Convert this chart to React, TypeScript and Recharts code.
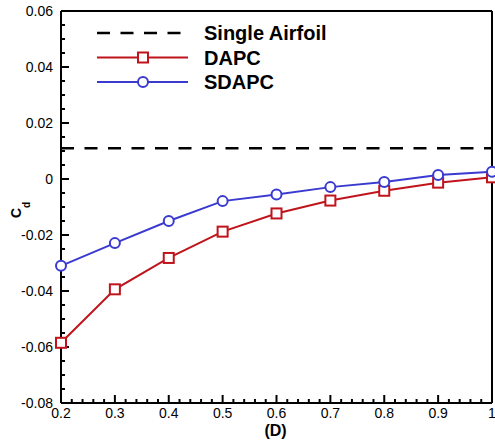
import React from 'react';
import { LineChart, Line, XAxis, YAxis, ReferenceLine, Legend } from 'recharts';

// data
const positions = [0.2, 0.3, 0.4, 0.5, 0.6, 0.7, 0.8, 0.9, 1.0];
const dapc = [-0.0585, -0.0394, -0.0282, -0.0188, -0.0123, -0.0077, -0.0042, -0.0013, 0.0006];
const sdapc = [-0.031, -0.0229, -0.015, -0.0079, -0.0055, -0.0029, -0.0011, 0.0014, 0.0026];
const singleAirfoil = 0.011;

const xMajor = [0.2, 0.3, 0.4, 0.5, 0.6, 0.7, 0.8, 0.9, 1];
const yMajor = [-0.08, -0.06, -0.04, -0.02, 0, 0.02, 0.04, 0.06];
const xLabels = ['0.2', '0.3', '0.4', '0.5', '0.6', '0.7', '0.8', '0.9', '1'];
const yLabels = ['-0.08', '-0.06', '-0.04', '-0.02', '0', '0.02', '0.04', '0.06'];

const X_DOMAIN = [0.2, 1];
const Y_DOMAIN = [-0.08, 0.06];

const RED = '#c0141c';
const BLUE = '#3a3ad0';
const FONT = '"Liberation Sans", Arial, sans-serif';

// plot box is about 431 x 392 px; tick marks go inward, 8px major / 4px minor
const PX_X = (X_DOMAIN[1] - X_DOMAIN[0]) / 431;
const PX_Y = (Y_DOMAIN[1] - Y_DOMAIN[0]) / 392;

// minor tick marks between the major ones
const withMinor = (major: number[], n: number) => {
  const out: number[] = [];
  for (let i = 0; i < major.length - 1; i++) {
    const step = (major[i + 1] - major[i]) / n;
    for (let k = 1; k < n; k++) out.push(Math.round((major[i] + k * step) * 1e6) / 1e6);
  }
  return out;
};
const xMinor = withMinor(xMajor, 5);
const yMinor = withMinor(yMajor, 4);

const data = positions.map((p, i) => ({ pos: p, dapc: dapc[i], sdapc: sdapc[i] }));

const majorIndex = (list: number[], v: number) => list.findIndex((m) => Math.abs(m - v) < 1e-6);

const renderXTick = (props: any) => {
  const { x, y, payload, index } = props;
  const idx = majorIndex(xMajor, payload.value);
  if (idx < 0) return <g key={`xt-${index}`} />;
  return (
    <text key={`xt-${index}`} x={x} y={y + 15} textAnchor="middle" fontSize={14} fontFamily={FONT} fill="#000" stroke="none">
      {xLabels[idx]}
    </text>
  );
};

const renderYTick = (props: any) => {
  const { x, y, payload, index } = props;
  const idx = majorIndex(yMajor, payload.value);
  if (idx < 0) return <g key={`yt-${index}`} />;
  return (
    <text key={`yt-${index}`} x={x - 8} y={y + 5} textAnchor="end" fontSize={14} fontFamily={FONT} fill="#000" stroke="none">
      {yLabels[idx]}
    </text>
  );
};

const SquareDot = (props: any) => {
  const { cx, cy, index } = props;
  if (cx == null || cy == null) return null;
  return <rect key={`sq-${index}`} x={cx - 5} y={cy - 5} width={10} height={10} fill="#fff" stroke={RED} strokeWidth={2} />;
};

const legendRows = [
  { label: 'Single Airfoil', color: '#000', kind: 'dash' },
  { label: 'DAPC', color: RED, kind: 'square' },
  { label: 'SDAPC', color: BLUE, kind: 'circle' },
];

const ChartLegend = () => (
  <svg width={340} height={100} style={{ display: 'block' }}>
    {legendRows.map((r, i) => {
      const y = 33 + i * 24.5;
      return (
        <g key={r.label}>
          <line
            x1={97}
            x2={188}
            y1={y}
            y2={y}
            stroke={r.color}
            strokeWidth={r.kind === 'dash' ? 2.5 : 2}
            strokeDasharray={r.kind === 'dash' ? '13 10.5' : undefined}
          />
          {r.kind === 'square' && <rect x={138} y={y - 5} width={10} height={10} fill="#fff" stroke={r.color} strokeWidth={2} />}
          {r.kind === 'circle' && <circle cx={143} cy={y} r={5} fill="#fff" stroke={r.color} strokeWidth={2} />}
          <text x={204} y={y + 7} fontSize={20} fontWeight="bold" fontFamily={FONT} fill="#000">
            {r.label}
          </text>
        </g>
      );
    })}
  </svg>
);

// inward tick marks along the bottom and left frame
const tickMarks = [
  ...xMajor.map((v) => ({ key: `xM${v}`, seg: [{ x: v, y: Y_DOMAIN[0] }, { x: v, y: Y_DOMAIN[0] + 8 * PX_Y }] })),
  ...xMinor.map((v) => ({ key: `xm${v}`, seg: [{ x: v, y: Y_DOMAIN[0] }, { x: v, y: Y_DOMAIN[0] + 4 * PX_Y }] })),
  ...yMajor.map((v) => ({ key: `yM${v}`, seg: [{ x: X_DOMAIN[0], y: v }, { x: X_DOMAIN[0] + 8 * PX_X, y: v }] })),
  ...yMinor.map((v) => ({ key: `ym${v}`, seg: [{ x: X_DOMAIN[0], y: v }, { x: X_DOMAIN[0] + 4 * PX_X, y: v }] })),
];

export default function App() {
  return (
    <div style={{ position: 'absolute', left: 0, top: 0, width: 495, height: 443, background: '#fff' }}>
      <LineChart width={495} height={443} data={data} margin={{ top: 1, right: 0, bottom: 0, left: 1 }}>
        <XAxis
          dataKey="pos"
          type="number"
          domain={X_DOMAIN}
          ticks={xMajor}
          interval={0}
          tick={renderXTick}
          tickLine={false}
          tickSize={0}
          tickMargin={0}
          height={40}
          axisLine={{ stroke: '#000', strokeWidth: 2 }}
          label={{
            content: () => (
              <text x={275.5} y={436} textAnchor="middle" fontSize={16} fontWeight="bold" fontFamily={FONT} fill="#000">
                (D)
              </text>
            ),
          }}
        />
        <XAxis xAxisId="top" orientation="top" type="number" domain={X_DOMAIN} tick={false} tickLine={false} height={10} axisLine={{ stroke: '#000', strokeWidth: 2 }} />
        <YAxis
          type="number"
          domain={Y_DOMAIN}
          ticks={yMajor}
          interval={0}
          tick={renderYTick}
          tickLine={false}
          tickSize={0}
          tickMargin={0}
          width={60}
          axisLine={{ stroke: '#000', strokeWidth: 2 }}
          label={{
            content: () => (
              <text
                x={21}
                y={218}
                transform="rotate(-90, 21, 218)"
                fontSize={14}
                fontWeight="bold"
                fontFamily={FONT}
                fill="#000"
              >
                C
                <tspan fontSize={10} dy={9}>
                  d
                </tspan>
              </text>
            ),
          }}
        />
        <YAxis yAxisId="right" orientation="right" type="number" domain={Y_DOMAIN} tick={false} tickLine={false} width={3} axisLine={{ stroke: '#000', strokeWidth: 2 }} />
        {tickMarks.map((t) => (
          <ReferenceLine key={t.key} segment={t.seg} stroke="#000" strokeWidth={2} ifOverflow="visible" />
        ))}
        <ReferenceLine y={singleAirfoil} stroke="#000" strokeWidth={2.5} strokeDasharray="13 10.5" />
        <Line
          dataKey="dapc"
          stroke={RED}
          strokeWidth={2}
          dot={<SquareDot />}
          isAnimationActive={false}
        />
        <Line
          dataKey="sdapc"
          stroke={BLUE}
          strokeWidth={2}
          dot={{ r: 5, fill: '#fff', stroke: BLUE, strokeWidth: 2 }}
          isAnimationActive={false}
        />
        <Legend
          layout="horizontal"
          verticalAlign="middle"
          align="center"
          content={() => <ChartLegend />}
          wrapperStyle={{ position: 'absolute', left: 0, top: 0, width: 340, height: 100 }}
        />
      </LineChart>
    </div>
  );
}
